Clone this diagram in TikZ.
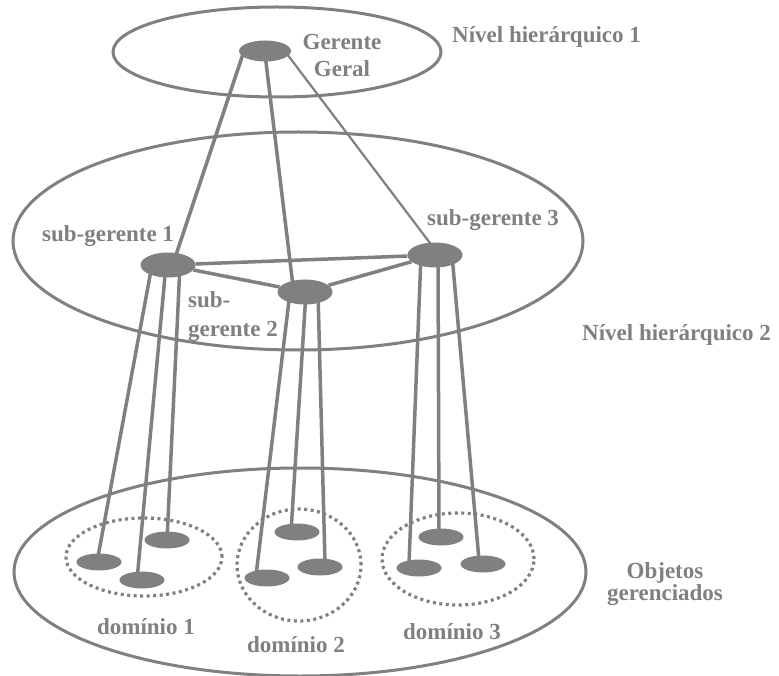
\documentclass[tikz,border=0pt]{standalone}
\usepackage{fontspec}
\setmainfont{Liberation Serif}
\usetikzlibrary{shapes.geometric,calc}
\pgfdeclarelayer{bg}
\pgfsetlayers{bg,main}
\definecolor{netgray}{HTML}{808080}
\begin{document}
\begin{tikzpicture}[x=1pt,y=-1pt,
  ring/.style={ellipse,draw=netgray,line width=3pt,inner sep=0pt},
  domring/.style={ellipse,draw=netgray,line width=3.2pt,dash pattern=on 3pt off 3.5pt,inner sep=0pt},
  mgr/.style={ellipse,fill=netgray,inner sep=0pt,minimum width=55pt,minimum height=25pt},
  obj/.style={ellipse,fill=netgray,inner sep=0pt,minimum width=45pt,minimum height=17pt},
  link/.style={draw=netgray,line width=3.5pt},
  thinlink/.style={draw=netgray,line width=2.2pt},
  lbl/.style={text=netgray,inner sep=0pt,align=center,
    font=\fontsize{23}{27}\selectfont\bfseries}]
\useasboundingbox (0,0) rectangle (779,676);

% hierarchy levels
\node[ring,minimum width=328pt,minimum height=90pt] (lvl1) at (277,52) {};
\node[ring,minimum width=570pt,minimum height=218pt] (lvl2) at (298,241) {};
\node[ring,minimum width=572pt,minimum height=208pt] (lvl3) at (300,572) {};

% domains
\node[domring,minimum width=156pt,minimum height=78pt] (dom1) at (144,557) {};
\node[domring,minimum width=124pt,minimum height=112pt] (dom2) at (299,565) {};
\node[domring,minimum width=152pt,minimum height=92pt] (dom3) at (458,559) {};

% managers
\node[mgr,minimum width=52pt,minimum height=21pt] (gg) at (265,51) {};
\node[mgr] (s1) at (168,265) {};
\node[mgr] (s2) at (305,292) {};
\node[mgr] (s3) at (435,255) {};

% managed objects
\node[obj] (d1a) at (99,562) {};
\node[obj] (d1b) at (142,580) {};
\node[obj] (d1c) at (167,540) {};
\node[obj] (d2a) at (267,578) {};
\node[obj] (d2b) at (297,532) {};
\node[obj] (d2c) at (320,567) {};
\node[obj] (d3a) at (419,568) {};
\node[obj] (d3b) at (441,537) {};
\node[obj] (d3c) at (483,564) {};

% connections, kept behind the filled shapes
\begin{pgfonlayer}{bg}
  \draw[link] ($(gg)+(-22,3)$) -- ($(s1)+(6,-4)$);
  \draw[link] ($(gg)+(0,3)$) -- ($(s2)+(-12,-6)$);
  \draw[thinlink] ($(gg)+(22,3)$) -- ($(s3)+(-2,-8)$);

  \draw[link] (s1) -- (s2);
  \draw[link] (s1) -- (s3);
  \draw[link] (s2) -- (s3);

  \draw[link] ($(s1)+(-16,0)$) -- ($(d1a)+(-2,0)$);
  \draw[link] ($(s1)+(-2,0)$) -- ($(d1b)+(-5,0)$);
  \draw[link] ($(s1)+(12,0)$) -- ($(d1c)+(0,0)$);

  \draw[link] ($(s2)+(-15,0)$) -- ($(d2a)+(-12,6)$);
  \draw[link] ($(s2)+(1,0)$) -- ($(d2b)+(-6,0)$);
  \draw[link] ($(s2)+(13,0)$) -- ($(d2c)+(5,-4)$);

  \draw[link] ($(s3)+(-14,0)$) -- ($(d3a)+(-10,-4)$);
  \draw[link] ($(s3)+(3,0)$) -- ($(d3b)+(-2,-4)$);
  \draw[link] ($(s3)+(17,0)$) -- ($(d3c)+(-4,-4)$);
\end{pgfonlayer}

% labels (a multi-line label sits on the baseline of its last line)
\node[lbl,anchor=base] (tgg) at (342,77) {Gerente\\Geral};
\node[lbl,anchor=base west] (tl1) at (452,43) {Nível hierárquico 1};
\node[lbl,anchor=base west] (ts1) at (42,242) {sub-gerente 1};
\node[lbl,anchor=base west,align=left] (ts2) at (188,337) {sub-\\[2pt]gerente 2};
\node[lbl,anchor=base west] (ts3) at (427,226) {sub-gerente 3};
\node[lbl,anchor=base west] (tl2) at (582,341) {Nível hierárquico 2};
\node[lbl,anchor=base] (td1) at (146,634) {domínio 1};
\node[lbl,anchor=base] (td2) at (296,652) {domínio 2};
\node[lbl,anchor=base] (td3) at (452,639) {domínio 3};
\node[lbl,anchor=base] (tobj) at (665,600) {Objetos\\[-5pt]gerenciados};
\end{tikzpicture}
\end{document}
